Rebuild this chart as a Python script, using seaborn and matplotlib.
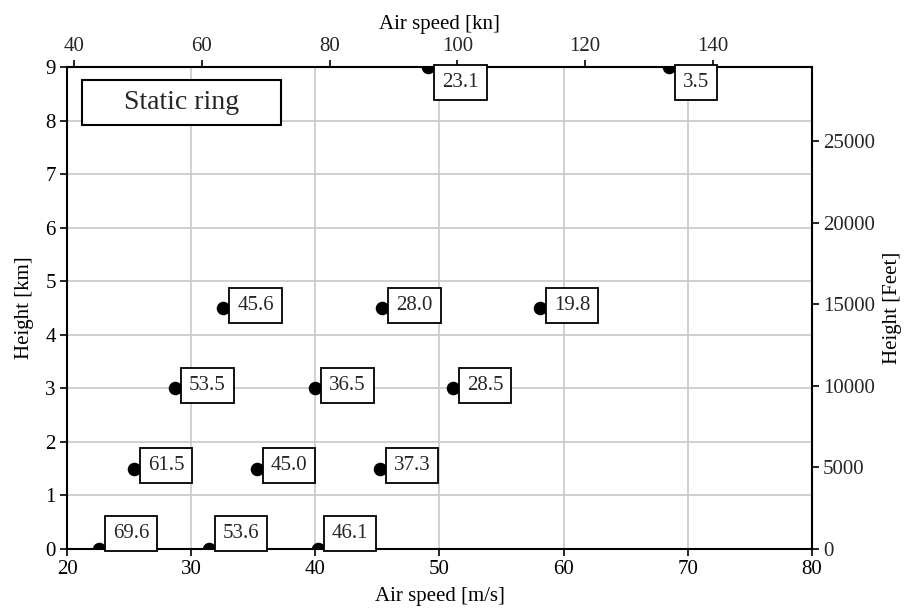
import matplotlib
matplotlib.use("Agg")
import matplotlib.pyplot as plt
import seaborn as sns
import pandas as pd
from matplotlib.patches import Rectangle

# Data
airspeed_ms = [22.6, 31.4, 40.2, 25.4, 35.3, 45.2, 28.7, 40.0, 51.1, 32.6, 45.4, 58.1, 49.1, 68.5]
height_km = [0, 0, 0, 1.5, 1.5, 1.5, 3, 3, 3, 4.5, 4.5, 4.5, 9, 9]
values = ["69.6", "53.6", "46.1", "61.5", "45.0", "37.3", "53.5", "36.5", "28.5",
          "45.6", "28.0", "19.8", "23.1", "3.5"]
kn_ticks = [40, 60, 80, 100, 120, 140]
ft_ticks = [0, 5000, 10000, 15000, 20000, 25000]

df = pd.DataFrame({"speed": airspeed_ms, "height": height_km, "val": values})

sns.set_theme(style="whitegrid")
plt.rcParams["font.family"] = ["Liberation Serif", "DejaVu Serif"]
plt.rcParams["font.size"] = 15

FS = 15

fig = plt.figure(figsize=(9.09, 6.16), dpi=100)
ax = fig.add_axes([67 / 909, 67 / 616, 745 / 909, 482 / 616])

sns.scatterplot(data=df, x="speed", y="height", ax=ax, s=95, color="black",
                edgecolor="black", linewidth=0, zorder=3, legend=False)

ax.set_xlim(20, 80)
ax.set_ylim(0, 9)
ax.set_xticks([20, 30, 40, 50, 60, 70, 80])
ax.set_yticks(range(0, 10))
ax.grid(True, color="#c8c8c8", linewidth=1.2)
ax.set_axisbelow(True)
for s in ax.spines.values():
    s.set_color("black")
    s.set_linewidth(1.5)
ax.tick_params(axis="both", which="both", direction="out", length=5, width=1.2,
               color="black", labelsize=FS, labelcolor="black", pad=3)
ax.tick_params(left=True, bottom=True)
ax.set_xlabel("Air speed [m/s]", fontsize=FS, color="black", labelpad=6)
ax.set_ylabel("Height [km]", fontsize=FS, color="black", labelpad=8)

# secondary axes
sx = ax.secondary_xaxis("top", functions=(lambda v: v * 1.94384, lambda v: v / 1.94384))
sx.set_xticks(kn_ticks)
sx.set_xlabel("Air speed [kn]", fontsize=FS, color="black", labelpad=6)
sx.tick_params(direction="out", length=5, width=1.2, color="black", labelsize=FS, pad=3)
sx.spines["top"].set_linewidth(1.5)

sy = ax.secondary_yaxis("right", functions=(lambda v: v * 3280.84, lambda v: v / 3280.84))
sy.set_yticks(ft_ticks)
sy.set_ylabel("Height [Feet]", fontsize=FS, color="black", labelpad=6)
sy.tick_params(direction="out", length=5, width=1.2, color="black", labelsize=FS, pad=3)
sy.spines["right"].set_linewidth(1.5)

# value labels
bbox = dict(boxstyle="square,pad=0.38", facecolor="white", edgecolor="black", linewidth=1.3)
for x, y, v in zip(airspeed_ms, height_km, values):
    if y == 0:
        va, dy = "bottom", 4.5
    elif y == 9:
        va, dy = "top", -4.5
    else:
        va, dy = "center", 2
    ax.annotate(v, (x, y), xytext=(10, dy), textcoords="offset points",
                ha="left", va=va, fontsize=FS, bbox=bbox, zorder=5,
                annotation_clip=False)

# Static ring label
ax.add_patch(Rectangle((0.0201, 0.8797), 0.2672, 0.0933, transform=ax.transAxes,
                       facecolor="white", edgecolor="black", linewidth=1.5, zorder=4))
ax.text(0.1537, 0.926, "Static ring", transform=ax.transAxes, ha="center", va="center",
        fontsize=20, zorder=5)

fig.savefig("out.png", dpi=100)
